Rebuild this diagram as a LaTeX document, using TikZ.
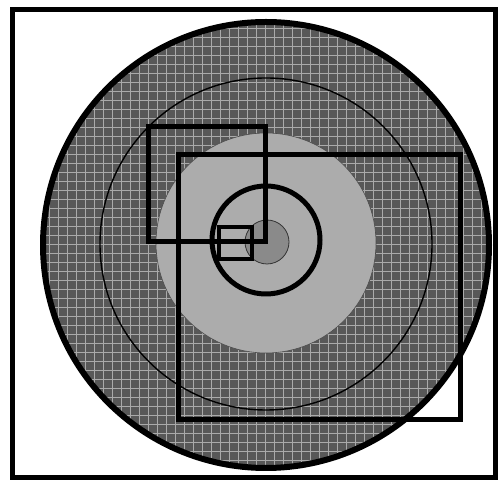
\documentclass[tikz,border=0pt]{standalone}
\usepackage{tikz}

\begin{document}
\begin{tikzpicture}[x=1pt,y=1pt,line width=0.4pt]
\definecolor{ringdark}{RGB}{88,88,88}
\definecolor{ringgrid}{RGB}{170,170,170}
\definecolor{corelight}{RGB}{172,172,172}
\definecolor{coremid}{RGB}{138,138,138}
\tikzset{boxline/.style={draw=black,line width=5pt,line join=miter}}
\useasboundingbox (0.00,0.00) rectangle (498.00,481.00);
\fill[white] (0.00,0.00) rectangle (498.00,481.00);
\fill[ringdark] (266.00,236.00) circle (223.00);
\begin{scope}
\clip (266.00,236.00) circle (223.00);
\foreach \gx in {40,49,...,495}
  \draw[ringgrid,line width=0.6pt] (\gx,10.00) -- (\gx,462.00);
\foreach \gy in {12,21,...,462}
  \draw[ringgrid,line width=0.6pt] (40.00,\gy) -- (495.00,\gy);
\end{scope}
\draw[black,line width=1.4pt] (266.00,237.00) circle (166.00);
\fill[corelight,draw=black!70,line width=0.6pt] (266.00,238.00) circle (110.00);
\fill[coremid,draw=black!80,line width=0.8pt] (267.00,239.00) circle (22.00);
\draw[black,line width=5pt] (266.00,241.00) circle (54.00);
\draw[black,line width=6pt] (266.00,236.00) circle (223.00);
\draw[boxline] (148.00,239.00) rectangle (265.00,354.00);
\draw[boxline] (178.00,61.00) rectangle (460.00,326.00);
\draw[boxline,line width=4pt] (219.00,222.00) rectangle (252.00,254.00);
\draw[black,line width=5pt] (12.00,3.00) rectangle (495.50,471.00);
\end{tikzpicture}
\end{document}
